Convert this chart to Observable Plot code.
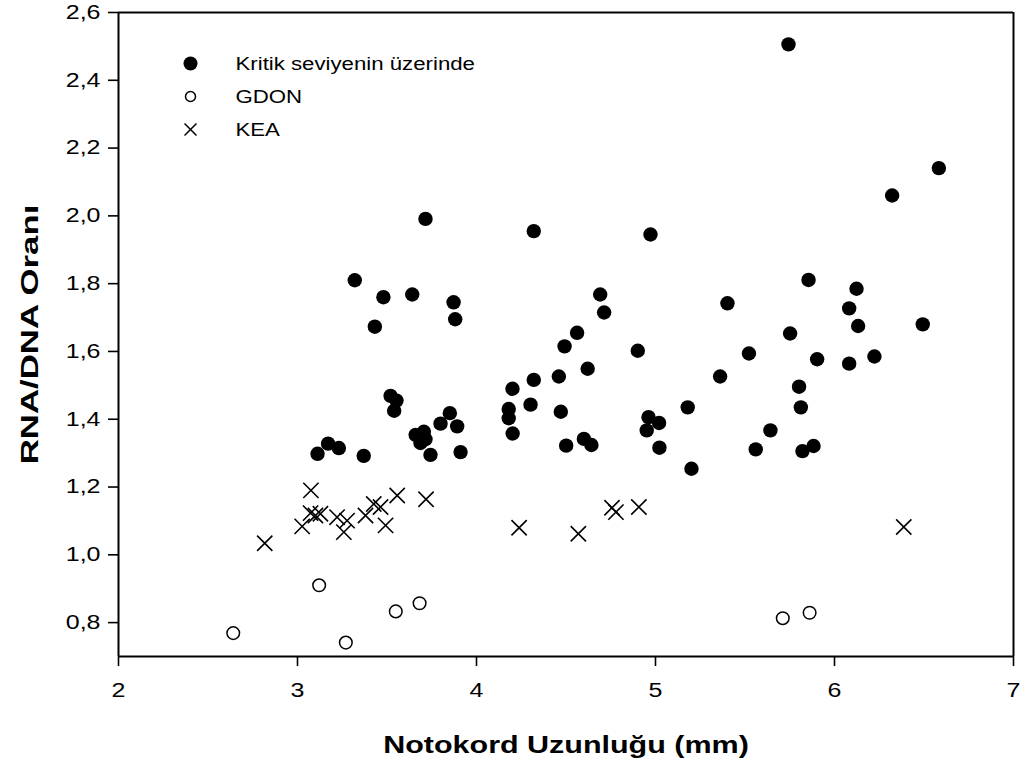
<!DOCTYPE html>
<html>
<head>
<meta charset="utf-8">
<script src="https://cdn.jsdelivr.net/npm/d3@7"></script>
<script src="https://cdn.jsdelivr.net/npm/@observablehq/plot@0.6"></script>
<style>
  html, body { margin: 0; padding: 0; background: #fff; }
  #chart svg { display: block; }
</style>
</head>
<body>
<div id="chart"></div>
<script>
// Series: Kritik seviyenin üzerinde (filled circles)
const kritikX = [3.320,3.480,3.641,3.872,3.881,3.432,3.715,4.320,4.972,5.743,6.583,6.322,5.855,6.123,6.082,6.132,6.493,5.752,5.402,5.522,5.903,6.082,6.223,5.361,5.802,5.812,5.180,5.020,4.961,4.951,5.642,5.560,5.821,5.883,5.201,5.022,4.691,4.713,4.562,4.492,4.901,4.621,4.460,4.320,4.201,4.302,4.180,4.180,4.202,4.471,4.501,4.600,4.642,3.520,3.553,3.540,3.851,3.799,3.892,3.660,3.706,3.687,3.715,3.171,3.231,3.112,3.370,3.743,3.911];
const kritikY = [1.810,1.760,1.768,1.745,1.695,1.673,1.991,1.955,1.945,2.506,2.141,2.060,1.811,1.785,1.727,1.675,1.680,1.653,1.742,1.594,1.577,1.564,1.585,1.526,1.496,1.435,1.435,1.389,1.406,1.367,1.367,1.311,1.306,1.321,1.254,1.316,1.768,1.715,1.655,1.615,1.602,1.549,1.526,1.516,1.490,1.443,1.430,1.403,1.358,1.422,1.322,1.342,1.324,1.469,1.455,1.425,1.418,1.387,1.379,1.354,1.363,1.330,1.341,1.328,1.315,1.298,1.292,1.295,1.303];
// Series: GDON (open circles)
const gdonX = [2.641,3.121,3.270,3.549,3.682,5.711,5.861];
const gdonY = [0.769,0.910,0.741,0.833,0.857,0.813,0.829];
// Series: KEA (crosses)
const keaX = [2.817,3.026,3.075,3.073,3.100,3.128,3.221,3.277,3.259,3.380,3.426,3.464,3.492,3.557,3.718,4.238,4.569,4.757,4.779,4.907,6.387];
const keaY = [1.034,1.084,1.190,1.123,1.116,1.121,1.111,1.101,1.067,1.116,1.150,1.141,1.087,1.175,1.164,1.080,1.062,1.139,1.126,1.141,1.082];

const seriesNames = ["Kritik seviyenin üzerinde", "GDON", "KEA"];
const xTicks = [2, 3, 4, 5, 6, 7];
const yTicks = [0.8, 1.0, 1.2, 1.4, 1.6, 1.8, 2.0, 2.2, 2.4, 2.6];
const xDomain = [2, 7];
const yDomain = [0.7, 2.6];
const xTitle = "Notokord Uzunluğu (mm)";
const yTitle = "RNA/DNA Oranı";

const toPts = (xs, ys) => xs.map((x, i) => ({x, y: ys[i]}));
const kritik = toPts(kritikX, kritikY);
const gdon = toPts(gdonX, gdonY);
const kea = toPts(keaX, keaY);

const FONT = "'Liberation Sans', Arial, Helvetica, sans-serif";
const fmt = d => d.toFixed(1).replace(".", ",");

const legendRow = (i, extra) => [
  Plot.text([seriesNames[i]], {frameAnchor: "top-left", dx: 117, dy: 51 + 33 * i, textAnchor: "start", lineAnchor: "middle", fontSize: 19, fill: "#000"})
];

const chart = Plot.plot({
  width: 1020,
  height: 769,
  marginLeft: 118,
  marginRight: 7,
  marginTop: 12,
  marginBottom: 113,
  style: {fontFamily: FONT, fontSize: "20px", color: "#000", background: "#fff"},
  x: {domain: xDomain},
  y: {domain: yDomain},
  marks: [
    Plot.axisX({ticks: xTicks, tickSize: 10, tickPadding: 16, strokeWidth: 1.6, label: null, fontSize: 20, tickFormat: d => String(d)}),
    Plot.axisY({ticks: yTicks, tickSize: 10, tickPadding: 8, strokeWidth: 1.6, label: null, fontSize: 20, tickFormat: fmt}),
    Plot.ruleX(xDomain, {stroke: "#000", strokeWidth: 2}),
    Plot.ruleY(yDomain, {stroke: "#000", strokeWidth: 2}),
    Plot.dot(kea, {x: "x", y: "y", symbol: "times", r: 7, stroke: "#000", strokeWidth: 1.6}),
    Plot.dot(gdon, {x: "x", y: "y", symbol: "circle", r: 6.3, stroke: "#000", strokeWidth: 1.5, fill: "none"}),
    Plot.dot(kritik, {x: "x", y: "y", symbol: "circle", r: 7.2, fill: "#000", stroke: "none"}),
    // legend symbols anchored to the frame's top-left corner
    Plot.dot([seriesNames[0]], {frameAnchor: "top-left", dx: 72, dy: 51, r: 7, fill: "#000"}),
    Plot.dot([seriesNames[1]], {frameAnchor: "top-left", dx: 72, dy: 84, r: 5, stroke: "#000", strokeWidth: 1.5, fill: "none"}),
    Plot.dot([seriesNames[2]], {frameAnchor: "top-left", dx: 72, dy: 117, r: 5.5, symbol: "times", stroke: "#000", strokeWidth: 1.5}),
    ...legendRow(0), ...legendRow(1), ...legendRow(2),
    Plot.text([xTitle], {frameAnchor: "bottom", dy: 89, textAnchor: "middle", lineAnchor: "middle", fontSize: 24, fontWeight: "bold", fill: "#000"}),
    Plot.text([yTitle], {frameAnchor: "left", dx: -88, rotate: -90, textAnchor: "middle", lineAnchor: "middle", fontSize: 24, fontWeight: "bold", fill: "#000"})
  ]
});

document.getElementById("chart").appendChild(chart);

// The reference's lettering is horizontally wide; widen each text about its anchor.
const widen = {[xTitle]: 1.27, [yTitle]: 1.45};
seriesNames.forEach(n => widen[n] = 1.17);
chart.querySelectorAll("text").forEach(el => {
  const s = widen[el.textContent] ?? 1.25;
  const bb = el.getBBox();
  const anchor = getComputedStyle(el).textAnchor;
  const ax = anchor === "end" ? bb.x + bb.width : anchor === "middle" ? bb.x + bb.width / 2 : bb.x;
  const t = el.getAttribute("transform") || "";
  el.setAttribute("transform", `${t} translate(${ax},0) scale(${s},1) translate(${-ax},0)`);
});
</script>
</body>
</html>
